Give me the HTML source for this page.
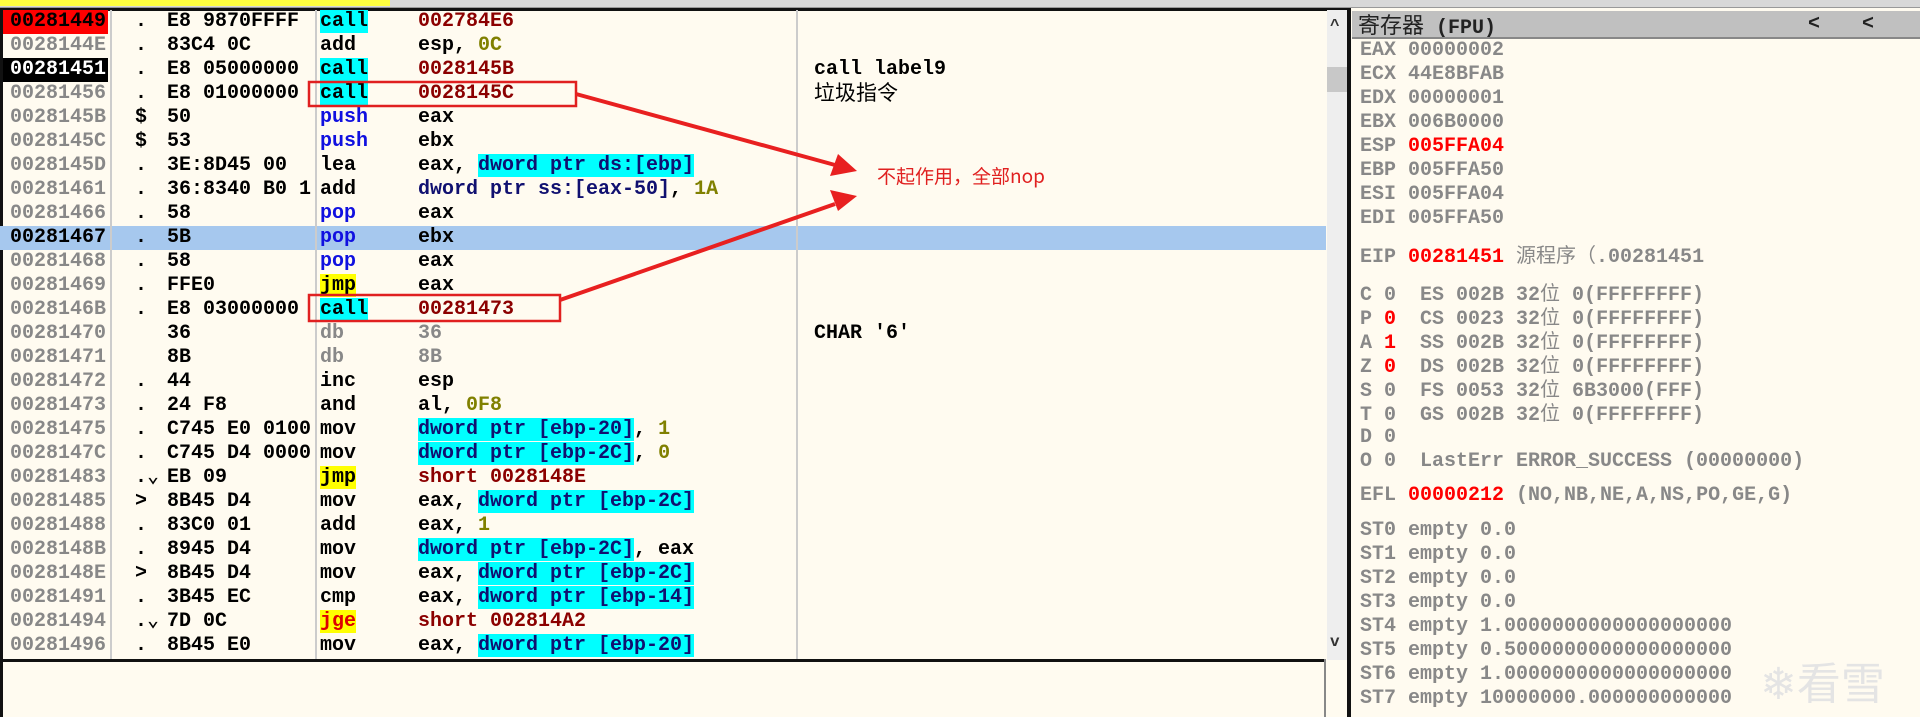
<!DOCTYPE html>
<html><head><meta charset="utf-8"><style>
*{margin:0;padding:0;box-sizing:border-box}
body{width:1920px;height:717px;background:#fffbf0;position:relative;overflow:hidden;font-family:"Liberation Mono","Noto Sans CJK SC",monospace;font-size:20px;font-weight:bold}
.a{position:absolute;white-space:pre;line-height:24px;height:24px}
.row{position:absolute;left:0;width:1326px;height:24px}
.g{color:#888}.r{color:#8b0000}.o{color:#808000}.b{color:#1010e0}.n{color:#101070}
.cy{background:#00ffff}.ye{background:#ffff00}
.cj{font-family:"Noto Sans CJK SC",sans-serif;font-weight:normal;line-height:1}
</style></head><body>
<div style="position:absolute;left:0;top:0;width:1920px;height:8px;background:#d8d8d8;border-bottom:1px solid #999"></div>
<div style="position:absolute;left:0;top:0;width:390px;height:6px;background:#ffff40"></div>
<div style="position:absolute;left:0;top:8px;width:1350px;height:3px;background:#111"></div>
<div style="position:absolute;left:0;top:8px;width:3px;height:709px;background:#111"></div>
<div class="row" style="top:226px;background:#a6c8ee"></div>
<div style="position:absolute;left:3px;top:10px;width:105px;height:24px;background:#f00"></div>
<div style="position:absolute;left:3px;top:58px;width:105px;height:24px;background:#000"></div>
<div style="position:absolute;left:110px;top:10px;width:2px;height:650px;background:#ccc"></div>
<div style="position:absolute;left:315px;top:10px;width:2px;height:650px;background:#ccc"></div>
<div style="position:absolute;left:796px;top:10px;width:2px;height:650px;background:#ccc"></div>
<div style="position:absolute;left:0;top:659px;width:1326px;height:3px;background:#111"></div>
<div style="position:absolute;left:1324px;top:659px;width:2px;height:58px;background:#888"></div>
<div style="position:absolute;left:1327px;top:10px;width:20px;height:650px;background:#eee"></div>
<div style="position:absolute;left:1327px;top:67px;width:20px;height:25px;background:#c8c8c8"></div>
<div class="a" style="left:1330px;top:14px;color:#333;font-size:16px">^</div>
<div class="a" style="left:1330px;top:630px;color:#333;font-size:16px">v</div>
<div style="position:absolute;left:1347px;top:8px;width:4px;height:709px;background:#111"></div>
<div id="dis"></div>
<div style="position:absolute;left:1352px;top:11px;width:568px;height:28px;background:#c0c0c0;border-bottom:2px solid #888"></div>
<div class="a" style="left:1358px;top:13px;color:#222;font-size:20px"><span class="cj" style="font-size:22px">寄存器</span> (FPU)</div>
<div class="a" style="left:1808px;top:13px;color:#222">&lt;</div>
<div class="a" style="left:1862px;top:13px;color:#222">&lt;</div>
<div id="reg"></div>
<div class="a cj" style="left:1760px;top:655px;color:#e4e4e4;font-size:44px;line-height:50px;height:50px">❄看雪</div>
<svg style="position:absolute;left:0;top:0" width="1920" height="717">
<rect x="309" y="82" width="267" height="24" fill="none" stroke="#e02020" stroke-width="2.5"/>
<rect x="309" y="295" width="251" height="26" fill="none" stroke="#e02020" stroke-width="2.5"/>
<line x1="576" y1="94" x2="835" y2="165" stroke="#e82020" stroke-width="4"/>
<polygon points="857,171 830,176 838,154" fill="#e82020"/>
<line x1="560" y1="300" x2="835" y2="204" stroke="#e82020" stroke-width="4"/>
<polygon points="857,196 838,211 830,190" fill="#e82020"/>
</svg>
<div class="a cj" style="left:877px;top:166px;color:#e02020;font-size:19px">不起作用，全部nop</div>
<script>
var R=[
["00281449",".","E8 9870FFFF","<span class='cy'>call</span>","<span class='r'>002784E6</span>",""],
["0028144E",".","83C4 0C","add","esp, <span class='o'>0C</span>",""],
["00281451",".","E8 05000000","<span class='cy'>call</span>","<span class='r'>0028145B</span>","call label9"],
["00281456",".","E8 01000000","<span class='cy'>call</span>","<span class='r'>0028145C</span>","<span class='cj' style='font-size:21px'>垃圾指令</span>"],
["0028145B","$","50","<span class='b'>push</span>","eax",""],
["0028145C","$","53","<span class='b'>push</span>","ebx",""],
["0028145D",".","3E:8D45 00","lea","eax, <span class='cy n'>dword ptr ds:[ebp]</span>",""],
["00281461",".","36:8340 B0 1","add","<span class='n'>dword ptr ss:[eax-50]</span>, <span class='o'>1A</span>",""],
["00281466",".","58","<span class='b'>pop</span>","eax",""],
["00281467",".","5B","<span class='b'>pop</span>","ebx",""],
["00281468",".","58","<span class='b'>pop</span>","eax",""],
["00281469",".","FFE0","<span class='ye'>jmp</span>","eax",""],
["0028146B",".","E8 03000000","<span class='cy'>call</span>","<span class='r'>00281473</span>",""],
["00281470","","36","<span class='g'>db</span>","<span class='g'>36</span>","CHAR '6'"],
["00281471","","8B","<span class='g'>db</span>","<span class='g'>8B</span>",""],
["00281472",".","44","inc","esp",""],
["00281473",".","24 F8","and","al, <span class='o'>0F8</span>",""],
["00281475",".","C745 E0 0100","mov","<span class='cy n'>dword ptr [ebp-20]</span>, <span class='o'>1</span>",""],
["0028147C",".","C745 D4 0000","mov","<span class='cy n'>dword ptr [ebp-2C]</span>, <span class='o'>0</span>",""],
["00281483",".⌄","EB 09","<span class='ye'>jmp</span>","<span class='r'>short 0028148E</span>",""],
["00281485","&gt;","8B45 D4","mov","eax, <span class='cy n'>dword ptr [ebp-2C]</span>",""],
["00281488",".","83C0 01","add","eax, <span class='o'>1</span>",""],
["0028148B",".","8945 D4","mov","<span class='cy n'>dword ptr [ebp-2C]</span>, eax",""],
["0028148E","&gt;","8B45 D4","mov","eax, <span class='cy n'>dword ptr [ebp-2C]</span>",""],
["00281491",".","3B45 EC","cmp","eax, <span class='cy n'>dword ptr [ebp-14]</span>",""],
["00281494",".⌄","7D 0C","<span class='ye' style='color:#d00'>jge</span>","<span class='r'>short 002814A2</span>",""],
["00281496",".","8B45 E0","mov","eax, <span class='cy n'>dword ptr [ebp-20]</span>",""]];
var h="";
R.forEach(function(r,i){var t=10+i*24;
var ac=i==0?"color:#000":i==2?"color:#fff":i==9?"color:#000":"color:#888";
h+="<div class='a' style='left:10px;top:"+t+"px;"+ac+"'>"+r[0]+"</div>";
h+="<div class='a' style='left:135px;top:"+t+"px;color:#000'>"+r[1]+"</div>";
h+="<div class='a' style='left:167px;top:"+t+"px;color:#000;width:148px;overflow:hidden'>"+r[2]+"</div>";
h+="<div class='a' style='left:320px;top:"+t+"px;color:#000'>"+r[3]+"</div>";
h+="<div class='a' style='left:418px;top:"+t+"px;color:#000;width:378px;overflow:hidden'>"+r[4]+"</div>";
if(r[5])h+="<div class='a' style='left:814px;top:"+t+"px;color:#000'>"+r[5]+"</div>";});
document.getElementById("dis").innerHTML=h;
var W="<span class='cj'>位</span>",E=function(s){return "<span style='color:#f00'>"+s+"</span>"};
var G=[[39,"EAX 00000002"],[63,"ECX 44E8BFAB"],[87,"EDX 00000001"],[111,"EBX 006B0000"],[135,"ESP "+E("005FFA04")],[159,"EBP 005FFA50"],[183,"ESI 005FFA04"],[207,"EDI 005FFA50"],
[244,"EIP "+E("00281451")+" <span class='cj'>源程序（</span>.00281451"],
[282,"C 0  ES 002B 32"+W+" 0(FFFFFFFF)"],[306,"P "+E("0")+"  CS 0023 32"+W+" 0(FFFFFFFF)"],[330,"A "+E("1")+"  SS 002B 32"+W+" 0(FFFFFFFF)"],[354,"Z "+E("0")+"  DS 002B 32"+W+" 0(FFFFFFFF)"],[378,"S 0  FS 0053 32"+W+" 6B3000(FFF)"],[402,"T 0  GS 002B 32"+W+" 0(FFFFFFFF)"],[426,"D 0"],[450,"O 0  LastErr ERROR_SUCCESS (00000000)"],
[484,"EFL "+E("00000212")+" (NO,NB,NE,A,NS,PO,GE,G)"],
[519,"ST0 empty 0.0"],[543,"ST1 empty 0.0"],[567,"ST2 empty 0.0"],[591,"ST3 empty 0.0"],[615,"ST4 empty 1.0000000000000000000"],[639,"ST5 empty 0.5000000000000000000"],[663,"ST6 empty 1.0000000000000000000"],[687,"ST7 empty 10000000.000000000000"]];
var g="";G.forEach(function(x){g+="<div class='a g' style='left:1360px;top:"+x[0]+"px'>"+x[1]+"</div>"});
document.getElementById("reg").innerHTML=g;
</script>
</body></html>
